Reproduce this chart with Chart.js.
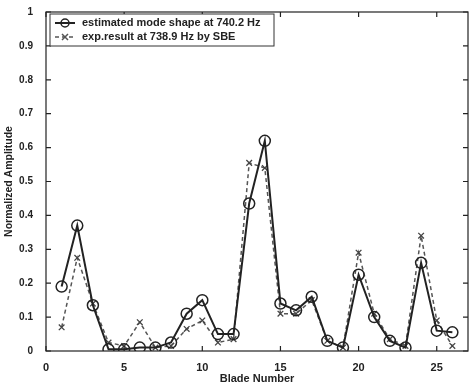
<!DOCTYPE html>
<html>
<head>
<meta charset="utf-8">
<script src="https://cdn.jsdelivr.net/npm/chart.js@4.4.1/dist/chart.umd.min.js"></script>
<style>
  html, body { margin: 0; padding: 0; background: #fff; }
  #wrap { width: 475px; height: 386px; position: relative; }
</style>
</head>
<body>
<div id="wrap"><canvas id="modeChart"></canvas></div>
<script>
// blade numbers and amplitudes
const blades = [1, 2, 3, 4, 5, 6, 7, 8, 9, 10, 11, 12, 13, 14, 15, 16, 17, 18, 19, 20, 21, 22, 23, 24, 25, 26];
const estimated = [0.19, 0.37, 0.135, 0.005, 0.005, 0.01, 0.01, 0.025, 0.11, 0.15, 0.05, 0.05, 0.435, 0.62, 0.14, 0.12, 0.16, 0.03, 0.01, 0.225, 0.10, 0.03, 0.01, 0.26, 0.06, 0.055];
const measured = [0.07, 0.275, 0.14, 0.025, 0.015, 0.085, 0.01, 0.015, 0.065, 0.09, 0.025, 0.035, 0.555, 0.54, 0.11, 0.11, 0.15, 0.03, 0.01, 0.29, 0.11, 0.035, 0.015, 0.34, 0.09, 0.015];
const xTicks = [0, 5, 10, 15, 20, 25];
const yTicks = [0, 0.1, 0.2, 0.3, 0.4, 0.5, 0.6, 0.7, 0.8, 0.9, 1];
const legendLabels = ['estimated mode shape at 740.2 Hz', 'exp.result at 738.9 Hz by SBE'];

const FONT = '"Liberation Sans", Arial, sans-serif';

// matlab style box with inward ticks + legend box in the corner
const boxPlugin = {
    id: 'boxPlugin',
    afterDatasetsDraw(chart) {
        const { ctx, chartArea: a, scales } = chart;
        ctx.save();
        ctx.strokeStyle = '#222';
        ctx.lineWidth = 1.2;
        ctx.strokeRect(a.left, a.top, a.right - a.left, a.bottom - a.top);
        ctx.beginPath();
        xTicks.forEach(v => {
            const x = scales.x.getPixelForValue(v);
            ctx.moveTo(x, a.bottom); ctx.lineTo(x, a.bottom - 5);
            ctx.moveTo(x, a.top); ctx.lineTo(x, a.top + 5);
        });
        yTicks.forEach(v => {
            const y = scales.y.getPixelForValue(v);
            ctx.moveTo(a.left, y); ctx.lineTo(a.left + 5, y);
            ctx.moveTo(a.right, y); ctx.lineTo(a.right - 5, y);
        });
        ctx.stroke();

        // legend
        const lx = a.left + 4, ly = a.top + 2, lw = 224, lh = 32;
        ctx.fillStyle = '#fff';
        ctx.fillRect(lx, ly, lw, lh);
        ctx.strokeStyle = '#333';
        ctx.lineWidth = 1;
        ctx.strokeRect(lx, ly, lw, lh);
        ctx.font = 'bold 11px ' + FONT;
        ctx.textBaseline = 'middle';
        ctx.fillStyle = '#222';

        const rows = [ly + 9, ly + 23];
        // row 1: solid + circle
        ctx.strokeStyle = '#222';
        ctx.lineWidth = 2;
        ctx.setLineDash([]);
        ctx.beginPath(); ctx.moveTo(lx + 5, rows[0]); ctx.lineTo(lx + 25, rows[0]); ctx.stroke();
        ctx.lineWidth = 1.5;
        ctx.beginPath(); ctx.arc(lx + 15, rows[0], 4, 0, Math.PI * 2); ctx.stroke();
        ctx.fillText(legendLabels[0], lx + 32, rows[0]);
        // row 2: dashed + cross
        ctx.strokeStyle = '#555';
        ctx.lineWidth = 1.5;
        ctx.setLineDash([4, 3]);
        ctx.beginPath(); ctx.moveTo(lx + 5, rows[1]); ctx.lineTo(lx + 25, rows[1]); ctx.stroke();
        ctx.setLineDash([]);
        ctx.beginPath();
        ctx.moveTo(lx + 12, rows[1] - 3); ctx.lineTo(lx + 18, rows[1] + 3);
        ctx.moveTo(lx + 12, rows[1] + 3); ctx.lineTo(lx + 18, rows[1] - 3);
        ctx.stroke();
        ctx.fillText(legendLabels[1], lx + 32, rows[1]);
        ctx.restore();
    }
};

const ctx = document.getElementById('modeChart');
new Chart(ctx, {
    type: 'line',
    data: {
        datasets: [
            {
                label: legendLabels[0],
                data: blades.map((b, i) => ({ x: b, y: estimated[i] })),
                borderColor: '#222',
                borderWidth: 2,
                pointStyle: 'circle',
                pointRadius: 5.5,
                pointBorderWidth: 1.5,
                pointBorderColor: '#222',
                pointBackgroundColor: 'rgba(0,0,0,0)',
                tension: 0
            },
            {
                label: legendLabels[1],
                data: blades.map((b, i) => ({ x: b, y: measured[i] })),
                borderColor: '#555',
                borderWidth: 1.5,
                borderDash: [4, 3],
                pointStyle: 'crossRot',
                pointRadius: 4,
                pointBorderWidth: 1.3,
                pointBorderColor: '#444',
                tension: 0
            }
        ]
    },
    options: {
        responsive: true,
        maintainAspectRatio: false,
        animation: false,
        layout: { padding: { left: 0, top: 12, right: 2, bottom: 0 } },
        plugins: { legend: { display: false }, tooltip: { enabled: false } },
        scales: {
            x: {
                type: 'linear',
                min: 0,
                max: 27,
                grid: { display: false },
                border: { display: false },
                afterBuildTicks: s => { s.ticks = xTicks.map(v => ({ value: v })); },
                afterFit: s => { s.height = 35; },
                ticks: { color: '#222', padding: 2, font: { family: FONT, size: 11, weight: 'bold' } },
                title: { display: true, text: 'Blade Number', color: '#222', padding: 0, font: { family: FONT, size: 11, weight: 'bold' } }
            },
            y: {
                min: 0,
                max: 1,
                grid: { display: false },
                border: { display: false },
                afterBuildTicks: s => { s.ticks = yTicks.map(v => ({ value: v })); },
                afterFit: s => { s.width = 46; },
                ticks: {
                    color: '#222',
                    padding: 5,
                    font: { family: FONT, size: 10, weight: 'bold' },
                    callback: v => String(Math.round(v * 10) / 10)
                },
                title: { display: true, text: 'Normalized Amplitude', color: '#222', padding: { top: 3, bottom: 0 }, font: { family: FONT, size: 10.5, weight: 'bold' } }
            }
        }
    },
    plugins: [boxPlugin]
});
</script>
</body>
</html>
